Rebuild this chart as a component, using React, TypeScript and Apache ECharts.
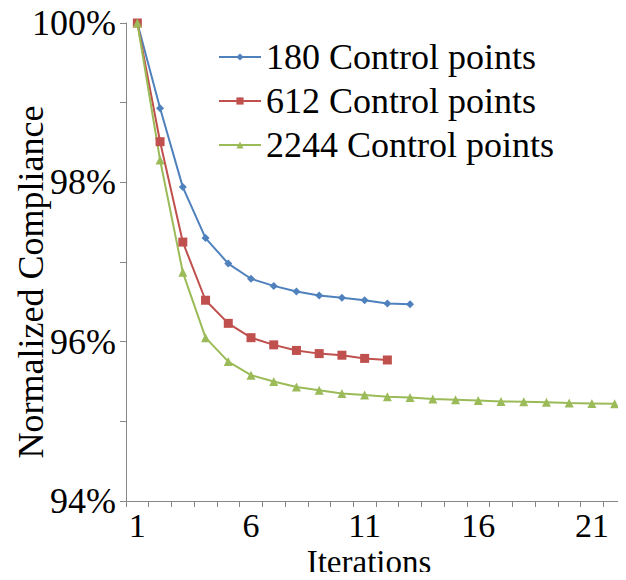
import React, { useEffect, useRef } from "react";
import * as echarts from "echarts";

const iterations = ["1","2","3","4","5","6","7","8","9","10","11","12","13","14","15","16","17","18","19","20","21","22"];
const cp180 = [100, 98.93, 97.94, 97.30, 96.98, 96.79, 96.70, 96.63, 96.58, 96.55, 96.52, 96.48, 96.47];
const cp612 = [100, 98.51, 97.25, 96.52, 96.23, 96.05, 95.96, 95.89, 95.85, 95.83, 95.79, 95.77];
const cp2244 = [100, 98.28, 96.87, 96.05, 95.75, 95.58, 95.50, 95.43, 95.39, 95.35, 95.33, 95.31, 95.30, 95.28, 95.27, 95.26, 95.25, 95.245, 95.24, 95.23, 95.225, 95.22];
const seriesNames = ["180 Control points", "612 Control points", "2244 Control points"];

const FONT = "Times New Roman, Liberation Serif, serif";
const AXIS_COLOR = "#868686";

export default function App() {
  const ref = useRef<HTMLDivElement>(null);
  useEffect(() => {
    if (!ref.current) return;
    const chart = echarts.init(ref.current, null, { renderer: "svg" });
    const mk = (name: string, data: number[], color: string, symbol: string, size: number) => ({
      name,
      type: "line",
      data,
      symbol,
      symbolSize: size,
      showSymbol: true,
      lineStyle: { color, width: 2 },
      itemStyle: { color },
    });
    chart.setOption({
      animation: false,
      backgroundColor: "#ffffff",
      textStyle: { fontFamily: FONT },
      grid: { left: 126, right: 0, top: 23, bottom: 79, containLabel: false, outerBoundsMode: "none" },
      legend: {
        orient: "vertical",
        left: 213,
        top: 34,
        itemWidth: 42,
        itemHeight: 9,
        itemGap: 8,
        textStyle: { fontFamily: FONT, fontSize: 36, color: "#000" },
        data: seriesNames,
      },
      xAxis: {
        type: "category",
        data: iterations,
        boundaryGap: true,
        name: "Iterations",
        nameLocation: "middle",
        nameGap: 44.6,
        nameMoveOverlap: false,
        nameTextStyle: { fontFamily: FONT, fontSize: 33, lineHeight: 33, color: "#000", padding: [0, 14, 0, 0] },
        axisLine: { lineStyle: { color: AXIS_COLOR, width: 1 } },
        axisTick: { show: true, interval: 0, length: 6, lineStyle: { color: AXIS_COLOR } },
        axisLabel: { interval: 4, fontFamily: FONT, fontSize: 34, lineHeight: 34, color: "#000", margin: 7 },
        splitLine: { show: false },
      },
      yAxis: {
        type: "value",
        min: 94,
        max: 100,
        interval: 1,
        name: "Normalized Compliance",
        nameLocation: "middle",
        nameGap: 77,
        nameMoveOverlap: false,
        nameTextStyle: { fontFamily: FONT, fontSize: 36, color: "#000", padding: [0, 40, 0, 0] },
        axisLine: { show: true, lineStyle: { color: AXIS_COLOR, width: 1 } },
        axisTick: { show: true, length: 6, lineStyle: { color: AXIS_COLOR } },
        axisLabel: {
          fontFamily: FONT,
          fontSize: 36,
          color: "#000",
          margin: 10,
          formatter: (v: number) => (Math.round(v) % 2 === 0 ? `${Math.round(v)}%` : ""),
        },
        splitLine: { show: false },
      },
      series: [
        mk(seriesNames[0], cp180, "#4F81BD", "diamond", 8),
        mk(seriesNames[1], cp612, "#C0504D", "rect", 9),
        mk(seriesNames[2], cp2244, "#9BBB59", "triangle", 9),
      ],
    });
    return () => chart.dispose();
  }, []);
  return <div ref={ref} style={{ width: 626, height: 580, margin: -8 }} />;
}
